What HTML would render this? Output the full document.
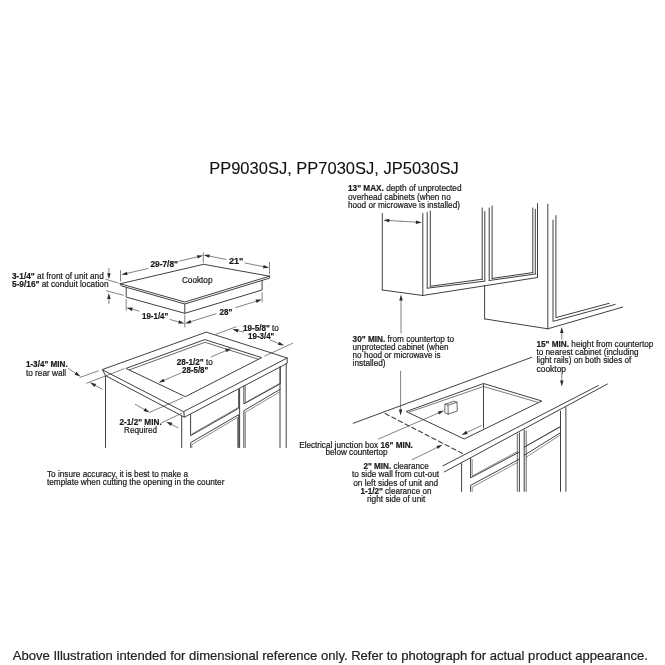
<!DOCTYPE html>
<html><head><meta charset="utf-8"><style>
html,body{margin:0;padding:0;background:#fff;}
svg{display:block;filter:grayscale(100%);}
text{font-family:"Liberation Sans", sans-serif;}
</style></head><body>
<svg width="665" height="665" viewBox="0 0 665 665" stroke-linecap="round">
<rect width="665" height="665" fill="#fff"/>
<text x="209.2" y="173.5" font-size="16.2" stroke="#111" stroke-width="0.1" textLength="249.5" lengthAdjust="spacingAndGlyphs" fill="#111" font-family="Liberation Sans, sans-serif">PP9030SJ, PP7030SJ, JP5030SJ</text>
<text x="12.8" y="660" font-size="13" stroke="#222" stroke-width="0.2" textLength="635" lengthAdjust="spacingAndGlyphs" fill="#222" font-family="Liberation Sans, sans-serif">Above Illustration intended for dimensional reference only. Refer to photograph for actual product appearance.</text>
<polyline points="120.2,283.8 203.5,264.3 269.5,276.2" fill="none" stroke="#404040" stroke-width="1.0" stroke-linejoin="round"/>
<polyline points="120.2,283.8 184.8,302.0 269.5,276.2" fill="none" stroke="#404040" stroke-width="1.0" stroke-linejoin="round"/>
<polyline points="120.2,283.8 120.5,285.2 121.8,286.0 184.8,304.0 269.3,278.2 269.5,276.2" fill="none" stroke="#404040" stroke-width="1.0" stroke-linejoin="round"/>
<polyline points="126.2,287.6 126.2,297.1 184.8,313.3 262.1,290.0 262.1,280.6" fill="none" stroke="#404040" stroke-width="1.0" stroke-linejoin="round"/>
<line x1="184.8" y1="304.2" x2="184.8" y2="313.3" stroke="#404040" stroke-width="1.0"/>
<line x1="120.5" y1="270.5" x2="120.5" y2="281" stroke="#404040" stroke-width="0.65"/>
<line x1="203.3" y1="252.8" x2="203.3" y2="262.4" stroke="#404040" stroke-width="0.65"/>
<line x1="148" y1="268.5" x2="127.14" y2="273.34" stroke="#404040" stroke-width="0.65"/>
<polygon points="121.30,274.70 126.75,271.64 127.54,275.05" fill="#2a2a2a"/>
<line x1="179.5" y1="261.1" x2="197.26" y2="256.89" stroke="#404040" stroke-width="0.65"/>
<polygon points="203.10,255.50 197.67,258.59 196.86,255.18" fill="#2a2a2a"/>
<text x="150.4" y="267.2" font-size="8.3" stroke="#1a1a1a" stroke-width="0.2" font-weight="bold" textLength="27.6" lengthAdjust="spacingAndGlyphs" fill="#1a1a1a" font-family="Liberation Sans, sans-serif">29-7/8"</text>
<line x1="269.5" y1="262.3" x2="269.5" y2="273.8" stroke="#404040" stroke-width="0.65"/>
<line x1="226" y1="259.4" x2="209.49" y2="256.16" stroke="#404040" stroke-width="0.65"/>
<polygon points="203.60,255.00 209.82,254.44 209.15,257.87" fill="#2a2a2a"/>
<line x1="245" y1="263.0" x2="263.31" y2="266.63" stroke="#404040" stroke-width="0.65"/>
<polygon points="269.20,267.80 262.97,268.35 263.66,264.92" fill="#2a2a2a"/>
<text x="228.9" y="264.3" font-size="8.3" stroke="#1a1a1a" stroke-width="0.2" font-weight="bold" textLength="14.4" lengthAdjust="spacingAndGlyphs" fill="#1a1a1a" font-family="Liberation Sans, sans-serif">21"</text>
<line x1="126.2" y1="299.5" x2="126.2" y2="310.3" stroke="#404040" stroke-width="0.65"/>
<line x1="184.8" y1="315.0" x2="184.8" y2="327.0" stroke="#404040" stroke-width="0.65"/>
<line x1="139" y1="311.1" x2="132.29" y2="309.27" stroke="#404040" stroke-width="0.65"/>
<polygon points="126.50,307.70 132.75,307.59 131.83,310.96" fill="#2a2a2a"/>
<line x1="170" y1="319.5" x2="178.72" y2="321.90" stroke="#404040" stroke-width="0.65"/>
<polygon points="184.50,323.50 178.25,323.59 179.18,320.22" fill="#2a2a2a"/>
<text x="142.0" y="318.7" font-size="8.3" stroke="#1a1a1a" stroke-width="0.2" font-weight="bold" textLength="26.3" lengthAdjust="spacingAndGlyphs" fill="#1a1a1a" font-family="Liberation Sans, sans-serif">19-1/4"</text>
<line x1="262.1" y1="292.8" x2="262.1" y2="301.8" stroke="#404040" stroke-width="0.65"/>
<line x1="216" y1="313.8" x2="190.83" y2="321.62" stroke="#404040" stroke-width="0.65"/>
<polygon points="185.10,323.40 190.31,319.95 191.35,323.29" fill="#2a2a2a"/>
<line x1="236" y1="307.5" x2="256.07" y2="301.28" stroke="#404040" stroke-width="0.65"/>
<polygon points="261.80,299.50 256.59,302.95 255.55,299.61" fill="#2a2a2a"/>
<text x="219.5" y="314.5" font-size="8.3" stroke="#1a1a1a" stroke-width="0.2" font-weight="bold" textLength="12.8" lengthAdjust="spacingAndGlyphs" fill="#1a1a1a" font-family="Liberation Sans, sans-serif">28"</text>
<line x1="108.9" y1="268.3" x2="108.90" y2="273.20" stroke="#404040" stroke-width="0.65"/>
<polygon points="108.90,279.20 107.15,273.20 110.65,273.20" fill="#2a2a2a"/>
<line x1="108.9" y1="303.6" x2="108.90" y2="299.10" stroke="#404040" stroke-width="0.65"/>
<polygon points="108.90,293.10 110.65,299.10 107.15,299.10" fill="#2a2a2a"/>
<line x1="105.8" y1="279.4" x2="118.2" y2="282.9" stroke="#404040" stroke-width="0.65"/>
<line x1="106.5" y1="290.8" x2="123.5" y2="295.3" stroke="#404040" stroke-width="0.65"/>
<text x="12" y="278.8" font-size="8.3" stroke="#1a1a1a" stroke-width="0.2" textLength="91.8" lengthAdjust="spacingAndGlyphs" fill="#1a1a1a" font-family="Liberation Sans, sans-serif" xml:space="preserve"><tspan font-weight="bold">3-1/4"</tspan><tspan font-weight="normal"> at front of unit and</tspan></text>
<text x="12" y="286.8" font-size="8.3" stroke="#1a1a1a" stroke-width="0.2" textLength="96.6" lengthAdjust="spacingAndGlyphs" fill="#1a1a1a" font-family="Liberation Sans, sans-serif" xml:space="preserve"><tspan font-weight="bold">5-9/16"</tspan><tspan font-weight="normal"> at conduit location</tspan></text>
<text x="181.9" y="283.1" font-size="8.3" stroke="#1a1a1a" stroke-width="0.2" textLength="30.6" lengthAdjust="spacingAndGlyphs" fill="#1a1a1a" font-family="Liberation Sans, sans-serif">Cooktop</text>
<polygon points="102.5,369.5 206.3,332.1 287.2,358.0 183.8,411.5" fill="none" stroke="#404040" stroke-width="1.0" stroke-linejoin="round"/>
<polyline points="102.5,369.5 105.4,375.6 184.4,417.2 287.2,363.3 287.2,358.0" fill="none" stroke="#404040" stroke-width="1.0" stroke-linejoin="round"/>
<line x1="183.8" y1="411.5" x2="184.3" y2="417.0" stroke="#404040" stroke-width="1.0"/>
<polygon points="126.3,368.3 204.8,339.6 261.7,357.6 185.7,396.5" fill="none" stroke="#404040" stroke-width="1.0" stroke-linejoin="round"/>
<polyline points="129.5,369.8 205.0,342.3 258.5,359.3" fill="none" stroke="#404040" stroke-width="0.8" stroke-linejoin="round"/>
<line x1="105.5" y1="375.5" x2="105.5" y2="447.5" stroke="#404040" stroke-width="1.0"/>
<line x1="181.7" y1="416.5" x2="181.7" y2="447.5" stroke="#404040" stroke-width="1.0"/>
<line x1="286.2" y1="363.5" x2="286.2" y2="447.5" stroke="#404040" stroke-width="1.0"/>
<line x1="280.0" y1="367.0" x2="280.0" y2="447.5" stroke="#404040" stroke-width="1.0"/>
<polyline points="190.6,414.5 190.6,435.7 238.7,408.3 238.7,389.5" fill="none" stroke="#404040" stroke-width="1.0" stroke-linejoin="round"/>
<polyline points="191.8,434.0 237.7,407.8" fill="none" stroke="#404040" stroke-width="0.6" stroke-linejoin="round"/>
<polyline points="243.9,386.0 243.9,403.9 280.3,383.8 280.3,367.0" fill="none" stroke="#404040" stroke-width="1.0" stroke-linejoin="round"/>
<polyline points="245.4,402.5 279.5,383.5" fill="none" stroke="#404040" stroke-width="0.6" stroke-linejoin="round"/>
<line x1="245.4" y1="386.0" x2="245.4" y2="402.5" stroke="#404040" stroke-width="0.6"/>
<line x1="239.6" y1="389.0" x2="239.6" y2="447.5" stroke="#404040" stroke-width="1.0"/>
<polyline points="190.7,447.5 190.7,442.6 238.7,414.7 238.7,447.5" fill="none" stroke="#404040" stroke-width="1.0" stroke-linejoin="round"/>
<polyline points="191.9,447.5 191.9,444.5 237.5,417.5 237.5,447.5" fill="none" stroke="#404040" stroke-width="0.6" stroke-linejoin="round"/>
<polyline points="243.9,447.5 243.9,410.7 280.3,389.2" fill="none" stroke="#404040" stroke-width="1.0" stroke-linejoin="round"/>
<polyline points="245.4,447.5 245.4,412.3 279.5,392.0" fill="none" stroke="#404040" stroke-width="0.6" stroke-linejoin="round"/>
<line x1="68.4" y1="368.5" x2="75.51" y2="373.26" stroke="#404040" stroke-width="0.65"/>
<polygon points="80.50,376.60 74.54,374.72 76.49,371.81" fill="#2a2a2a"/>
<line x1="80.0" y1="377.4" x2="98.4" y2="370.8" stroke="#404040" stroke-width="0.65"/>
<line x1="102.1" y1="389.2" x2="95.27" y2="385.47" stroke="#404040" stroke-width="0.65"/>
<polygon points="90.00,382.60 96.11,383.94 94.43,387.01" fill="#2a2a2a"/>
<line x1="86.8" y1="383.2" x2="124.2" y2="368.7" stroke="#404040" stroke-width="0.65"/>
<text x="25.9" y="367.3" font-size="8.3" stroke="#1a1a1a" stroke-width="0.2" textLength="41.8" lengthAdjust="spacingAndGlyphs" fill="#1a1a1a" font-family="Liberation Sans, sans-serif" xml:space="preserve"><tspan font-weight="bold">1-3/4" MIN.</tspan></text>
<text x="25.9" y="376.1" font-size="8.3" stroke="#1a1a1a" stroke-width="0.2" textLength="40.3" lengthAdjust="spacingAndGlyphs" fill="#1a1a1a" font-family="Liberation Sans, sans-serif">to rear wall</text>
<line x1="215.8" y1="334.3" x2="236.1" y2="326.8" stroke="#404040" stroke-width="0.65"/>
<line x1="264.7" y1="356.1" x2="292.5" y2="343.3" stroke="#404040" stroke-width="0.65"/>
<line x1="243.6" y1="332.0" x2="238.14" y2="330.69" stroke="#404040" stroke-width="0.65"/>
<polygon points="232.30,329.30 238.54,328.99 237.73,332.40" fill="#2a2a2a"/>
<line x1="270" y1="340.0" x2="278.62" y2="343.40" stroke="#404040" stroke-width="0.65"/>
<polygon points="284.20,345.60 277.98,345.03 279.26,341.77" fill="#2a2a2a"/>
<text x="242.9" y="331.3" font-size="8.3" stroke="#1a1a1a" stroke-width="0.2" textLength="36" lengthAdjust="spacingAndGlyphs" fill="#1a1a1a" font-family="Liberation Sans, sans-serif" xml:space="preserve"><tspan font-weight="bold">19-5/8"</tspan><tspan font-weight="normal"> to</tspan></text>
<text x="248.1" y="338.8" font-size="8.3" stroke="#1a1a1a" stroke-width="0.2" font-weight="bold" textLength="26.3" lengthAdjust="spacingAndGlyphs" fill="#1a1a1a" font-family="Liberation Sans, sans-serif">19-3/4"</text>
<line x1="181.2" y1="372.9" x2="164.11" y2="380.23" stroke="#404040" stroke-width="0.65"/>
<polygon points="158.60,382.60 163.42,378.63 164.80,381.84" fill="#2a2a2a"/>
<line x1="211.3" y1="356.8" x2="225.86" y2="350.71" stroke="#404040" stroke-width="0.65"/>
<polygon points="231.40,348.40 226.54,352.33 225.19,349.10" fill="#2a2a2a"/>
<text x="176.7" y="365.0" font-size="8.3" stroke="#1a1a1a" stroke-width="0.2" textLength="36.1" lengthAdjust="spacingAndGlyphs" fill="#1a1a1a" font-family="Liberation Sans, sans-serif" xml:space="preserve"><tspan font-weight="bold">28-1/2"</tspan><tspan font-weight="normal"> to</tspan></text>
<text x="182" y="372.9" font-size="8.3" stroke="#1a1a1a" stroke-width="0.2" font-weight="bold" textLength="26.3" lengthAdjust="spacingAndGlyphs" fill="#1a1a1a" font-family="Liberation Sans, sans-serif">28-5/8"</text>
<line x1="135.3" y1="404.4" x2="144.36" y2="409.47" stroke="#404040" stroke-width="0.65"/>
<polygon points="149.60,412.40 143.51,411.00 145.22,407.94" fill="#2a2a2a"/>
<line x1="149.6" y1="412.4" x2="182.7" y2="397.7" stroke="#404040" stroke-width="0.65"/>
<line x1="178.1" y1="427.7" x2="171.56" y2="424.40" stroke="#404040" stroke-width="0.65"/>
<polygon points="166.20,421.70 172.35,422.84 170.77,425.96" fill="#2a2a2a"/>
<line x1="161.8" y1="422.7" x2="181.8" y2="413.2" stroke="#404040" stroke-width="0.65"/>
<text x="119.5" y="424.7" font-size="8.3" stroke="#1a1a1a" stroke-width="0.2" font-weight="bold" textLength="42.2" lengthAdjust="spacingAndGlyphs" fill="#1a1a1a" font-family="Liberation Sans, sans-serif">2-1/2" MIN.</text>
<text x="124" y="432.8" font-size="8.3" stroke="#1a1a1a" stroke-width="0.2" textLength="33.1" lengthAdjust="spacingAndGlyphs" fill="#1a1a1a" font-family="Liberation Sans, sans-serif">Required</text>
<text x="47" y="477.3" font-size="8.3" stroke="#1a1a1a" stroke-width="0.2" textLength="141" lengthAdjust="spacingAndGlyphs" fill="#1a1a1a" font-family="Liberation Sans, sans-serif">To insure accuracy, it is best to make a</text>
<text x="47" y="484.5" font-size="8.3" stroke="#1a1a1a" stroke-width="0.2" textLength="177.4" lengthAdjust="spacingAndGlyphs" fill="#1a1a1a" font-family="Liberation Sans, sans-serif">template when cutting the opening in the counter</text>
<line x1="382.3" y1="213.5" x2="382.3" y2="290.0" stroke="#404040" stroke-width="1.0"/>
<line x1="382.3" y1="290.0" x2="422.8" y2="295.5" stroke="#404040" stroke-width="1.0"/>
<line x1="422.8" y1="213.5" x2="422.8" y2="295.5" stroke="#404040" stroke-width="1.0"/>
<line x1="422.8" y1="295.5" x2="537.5" y2="277.5" stroke="#404040" stroke-width="1.0"/>
<line x1="427.2" y1="212.5" x2="427.2" y2="288.2" stroke="#404040" stroke-width="1.0"/>
<line x1="427.2" y1="288.2" x2="484.4" y2="281.2" stroke="#404040" stroke-width="1.0"/>
<line x1="430.3" y1="211.0" x2="430.3" y2="286.3" stroke="#404040" stroke-width="1.0"/>
<line x1="430.3" y1="286.3" x2="482.4" y2="279.2" stroke="#404040" stroke-width="1.0"/>
<line x1="482.2" y1="208.0" x2="482.2" y2="279.2" stroke="#404040" stroke-width="1.0"/>
<line x1="484.8" y1="211.5" x2="484.8" y2="281.2" stroke="#404040" stroke-width="1.0"/>
<line x1="489.2" y1="207.9" x2="489.2" y2="280.5" stroke="#404040" stroke-width="1.0"/>
<line x1="489.2" y1="280.5" x2="535.3" y2="274.0" stroke="#404040" stroke-width="1.0"/>
<line x1="492.1" y1="206.0" x2="492.1" y2="278.4" stroke="#404040" stroke-width="1.0"/>
<line x1="492.1" y1="278.4" x2="532.8" y2="272.6" stroke="#404040" stroke-width="1.0"/>
<line x1="532.8" y1="208.0" x2="532.8" y2="272.6" stroke="#404040" stroke-width="1.0"/>
<line x1="535.3" y1="209.3" x2="535.3" y2="274.0" stroke="#404040" stroke-width="1.0"/>
<line x1="537.5" y1="203.6" x2="537.5" y2="277.5" stroke="#404040" stroke-width="1.0"/>
<line x1="484.6" y1="285.3" x2="484.6" y2="318.9" stroke="#404040" stroke-width="1.0"/>
<line x1="484.6" y1="318.9" x2="547.8" y2="328.8" stroke="#404040" stroke-width="1.0"/>
<line x1="547.8" y1="204.1" x2="547.8" y2="328.8" stroke="#404040" stroke-width="1.0"/>
<line x1="547.8" y1="328.8" x2="622.7" y2="307.1" stroke="#404040" stroke-width="1.0"/>
<polyline points="553.0,220.1 553.0,321.4 615.2,304.4" fill="none" stroke="#404040" stroke-width="1.0" stroke-linejoin="round"/>
<polyline points="555.9,215.6 555.9,317.6 609.2,303.3" fill="none" stroke="#404040" stroke-width="1.0" stroke-linejoin="round"/>
<line x1="402" y1="221.3" x2="389.29" y2="220.55" stroke="#404040" stroke-width="0.65"/>
<polygon points="383.30,220.20 389.39,218.81 389.19,222.30" fill="#2a2a2a"/>
<line x1="402" y1="221.3" x2="415.91" y2="222.14" stroke="#404040" stroke-width="0.65"/>
<polygon points="421.90,222.50 415.81,223.89 416.02,220.39" fill="#2a2a2a"/>
<text x="348" y="191.4" font-size="8.3" stroke="#1a1a1a" stroke-width="0.2" textLength="113.5" lengthAdjust="spacingAndGlyphs" fill="#1a1a1a" font-family="Liberation Sans, sans-serif" xml:space="preserve"><tspan font-weight="bold">13" MAX.</tspan><tspan font-weight="normal"> depth of unprotected</tspan></text>
<text x="348" y="199.5" font-size="8.3" stroke="#1a1a1a" stroke-width="0.2" textLength="102.7" lengthAdjust="spacingAndGlyphs" fill="#1a1a1a" font-family="Liberation Sans, sans-serif">overhead cabinets (when no</text>
<text x="348" y="207.7" font-size="8.3" stroke="#1a1a1a" stroke-width="0.2" textLength="111.9" lengthAdjust="spacingAndGlyphs" fill="#1a1a1a" font-family="Liberation Sans, sans-serif">hood or microwave is installed)</text>
<line x1="401" y1="333" x2="401.00" y2="300.50" stroke="#404040" stroke-width="0.65"/>
<polygon points="401.00,294.50 402.75,300.50 399.25,300.50" fill="#2a2a2a"/>
<line x1="400.6" y1="371.2" x2="400.60" y2="409.50" stroke="#404040" stroke-width="0.65"/>
<polygon points="400.60,415.50 398.85,409.50 402.35,409.50" fill="#2a2a2a"/>
<text x="352.6" y="341.9" font-size="8.3" stroke="#1a1a1a" stroke-width="0.2" textLength="101.4" lengthAdjust="spacingAndGlyphs" fill="#1a1a1a" font-family="Liberation Sans, sans-serif" xml:space="preserve"><tspan font-weight="bold">30" MIN.</tspan><tspan font-weight="normal"> from countertop to</tspan></text>
<text x="352.6" y="349.8" font-size="8.3" stroke="#1a1a1a" stroke-width="0.2" textLength="96" lengthAdjust="spacingAndGlyphs" fill="#1a1a1a" font-family="Liberation Sans, sans-serif">unprotected cabinet (when</text>
<text x="352.6" y="357.7" font-size="8.3" stroke="#1a1a1a" stroke-width="0.2" textLength="88" lengthAdjust="spacingAndGlyphs" fill="#1a1a1a" font-family="Liberation Sans, sans-serif">no hood or microwave is</text>
<text x="352.6" y="365.5" font-size="8.3" stroke="#1a1a1a" stroke-width="0.2" textLength="33" lengthAdjust="spacingAndGlyphs" fill="#1a1a1a" font-family="Liberation Sans, sans-serif">installed)</text>
<line x1="561.8" y1="339.2" x2="561.80" y2="333.00" stroke="#404040" stroke-width="0.65"/>
<polygon points="561.80,327.00 563.55,333.00 560.05,333.00" fill="#2a2a2a"/>
<line x1="561.8" y1="374.1" x2="561.80" y2="380.50" stroke="#404040" stroke-width="0.65"/>
<polygon points="561.80,386.50 560.05,380.50 563.55,380.50" fill="#2a2a2a"/>
<text x="536.5" y="346.5" font-size="8.3" stroke="#1a1a1a" stroke-width="0.2" textLength="116.8" lengthAdjust="spacingAndGlyphs" fill="#1a1a1a" font-family="Liberation Sans, sans-serif" xml:space="preserve"><tspan font-weight="bold">15" MIN.</tspan><tspan font-weight="normal"> height from countertop</tspan></text>
<text x="536.5" y="354.9" font-size="8.3" stroke="#1a1a1a" stroke-width="0.2" textLength="102.1" lengthAdjust="spacingAndGlyphs" fill="#1a1a1a" font-family="Liberation Sans, sans-serif">to nearest cabinet (including</text>
<text x="536.5" y="363.3" font-size="8.3" stroke="#1a1a1a" stroke-width="0.2" textLength="94.8" lengthAdjust="spacingAndGlyphs" fill="#1a1a1a" font-family="Liberation Sans, sans-serif">light rails) on both sides of</text>
<text x="536.5" y="371.8" font-size="8.3" stroke="#1a1a1a" stroke-width="0.2" textLength="29.5" lengthAdjust="spacingAndGlyphs" fill="#1a1a1a" font-family="Liberation Sans, sans-serif">cooktop</text>
<line x1="353.2" y1="423.3" x2="531.7" y2="357.3" stroke="#404040" stroke-width="1.0"/>
<line x1="442.8" y1="465.9" x2="598.4" y2="385.5" stroke="#404040" stroke-width="1.0"/>
<line x1="444.3" y1="471.9" x2="607.4" y2="384.0" stroke="#404040" stroke-width="1.0"/>
<polygon points="406.5,411.4 483.5,383.5 541.8,401.0 464.6,438.8" fill="none" stroke="#404040" stroke-width="1.0" stroke-linejoin="round"/>
<polyline points="409.5,412.0 483.5,386.5 538.5,402.5" fill="none" stroke="#404040" stroke-width="0.7" stroke-linejoin="round"/>
<line x1="483.5" y1="384.5" x2="483.5" y2="428.0" stroke="#404040" stroke-width="1.0"/>
<line x1="481.5" y1="425.5" x2="466.92" y2="432.43" stroke="#404040" stroke-width="0.65"/>
<polygon points="461.50,435.00 466.17,430.84 467.67,434.01" fill="#2a2a2a"/>
<polygon points="445.2,404.2 454.2,401.1 457.0,402.3 457.3,411.0 448.2,414.2 445.2,412.9" fill="none" stroke="#404040" stroke-width="0.8" stroke-linejoin="round"/>
<polyline points="445.2,404.2 448.0,405.2 457.0,402.3" fill="none" stroke="#404040" stroke-width="0.8" stroke-linejoin="round"/>
<line x1="448.0" y1="405.2" x2="448.2" y2="414.2" stroke="#404040" stroke-width="0.8"/>
<line x1="378.5" y1="439.0" x2="438.50" y2="412.99" stroke="#404040" stroke-width="0.65"/>
<polygon points="444.00,410.60 439.19,414.59 437.80,411.38" fill="#2a2a2a"/>
<line x1="385.1" y1="413.6" x2="463.9" y2="454.2" stroke="#404040" stroke-width="1.1" stroke-dasharray="4.5,3"/>
<line x1="412.2" y1="459.7" x2="437.12" y2="447.45" stroke="#404040" stroke-width="0.65"/>
<polygon points="442.50,444.80 437.89,449.02 436.34,445.88" fill="#2a2a2a"/>
<line x1="461.6" y1="463.6" x2="461.6" y2="491.4" stroke="#404040" stroke-width="1.0"/>
<polyline points="470.6,458.3 470.6,477.9 519.4,452.0" fill="none" stroke="#404040" stroke-width="1.0" stroke-linejoin="round"/>
<polyline points="472.2,459.5 472.2,476.0 517.3,451.6" fill="none" stroke="#404040" stroke-width="0.6" stroke-linejoin="round"/>
<polyline points="470.6,491.4 470.6,485.4 519.4,459.1" fill="none" stroke="#404040" stroke-width="1.0" stroke-linejoin="round"/>
<polyline points="472.2,491.4 472.2,487.2 517.3,462.6" fill="none" stroke="#404040" stroke-width="0.6" stroke-linejoin="round"/>
<line x1="517.3" y1="434.0" x2="517.3" y2="491.4" stroke="#404040" stroke-width="0.8"/>
<line x1="519.4" y1="433.0" x2="519.4" y2="491.4" stroke="#404040" stroke-width="1.0"/>
<line x1="524.2" y1="430.0" x2="524.2" y2="491.4" stroke="#404040" stroke-width="1.0"/>
<line x1="526.2" y1="431.0" x2="526.2" y2="491.4" stroke="#404040" stroke-width="0.8"/>
<line x1="524.2" y1="447.2" x2="560.5" y2="426.4" stroke="#404040" stroke-width="1.0"/>
<line x1="526.2" y1="446.0" x2="559.5" y2="427.5" stroke="#404040" stroke-width="0.6"/>
<line x1="524.2" y1="455.3" x2="560.5" y2="432.7" stroke="#404040" stroke-width="1.0"/>
<line x1="526.2" y1="457.2" x2="559.5" y2="435.5" stroke="#404040" stroke-width="0.6"/>
<line x1="560.5" y1="411.1" x2="560.5" y2="491.4" stroke="#404040" stroke-width="1.0"/>
<line x1="565.9" y1="407.5" x2="565.9" y2="491.4" stroke="#404040" stroke-width="1.0"/>
<text x="299.2" y="447.5" font-size="8.3" stroke="#1a1a1a" stroke-width="0.2" textLength="113.7" lengthAdjust="spacingAndGlyphs" fill="#1a1a1a" font-family="Liberation Sans, sans-serif" xml:space="preserve"><tspan font-weight="normal">Electrical junction box </tspan><tspan font-weight="bold">16" MIN.</tspan></text>
<text x="325.5" y="455.0" font-size="8.3" stroke="#1a1a1a" stroke-width="0.2" textLength="62.1" lengthAdjust="spacingAndGlyphs" fill="#1a1a1a" font-family="Liberation Sans, sans-serif">below countertop</text>
<text x="363.4" y="469.0" font-size="8.3" stroke="#1a1a1a" stroke-width="0.2" textLength="65.3" lengthAdjust="spacingAndGlyphs" fill="#1a1a1a" font-family="Liberation Sans, sans-serif" xml:space="preserve"><tspan font-weight="bold">2" MIN.</tspan><tspan font-weight="normal"> clearance</tspan></text>
<text x="352.0" y="476.8" font-size="8.3" stroke="#1a1a1a" stroke-width="0.2" textLength="87.1" lengthAdjust="spacingAndGlyphs" fill="#1a1a1a" font-family="Liberation Sans, sans-serif">to side wall from cut-out</text>
<text x="353.2" y="485.5" font-size="8.3" stroke="#1a1a1a" stroke-width="0.2" textLength="85" lengthAdjust="spacingAndGlyphs" fill="#1a1a1a" font-family="Liberation Sans, sans-serif">on left sides of unit and</text>
<text x="360.5" y="493.9" font-size="8.3" stroke="#1a1a1a" stroke-width="0.2" textLength="70.9" lengthAdjust="spacingAndGlyphs" fill="#1a1a1a" font-family="Liberation Sans, sans-serif" xml:space="preserve"><tspan font-weight="bold">1-1/2"</tspan><tspan font-weight="normal"> clearance on</tspan></text>
<text x="367.0" y="501.9" font-size="8.3" stroke="#1a1a1a" stroke-width="0.2" textLength="58.4" lengthAdjust="spacingAndGlyphs" fill="#1a1a1a" font-family="Liberation Sans, sans-serif">right side of unit</text>
</svg>
</body></html>
